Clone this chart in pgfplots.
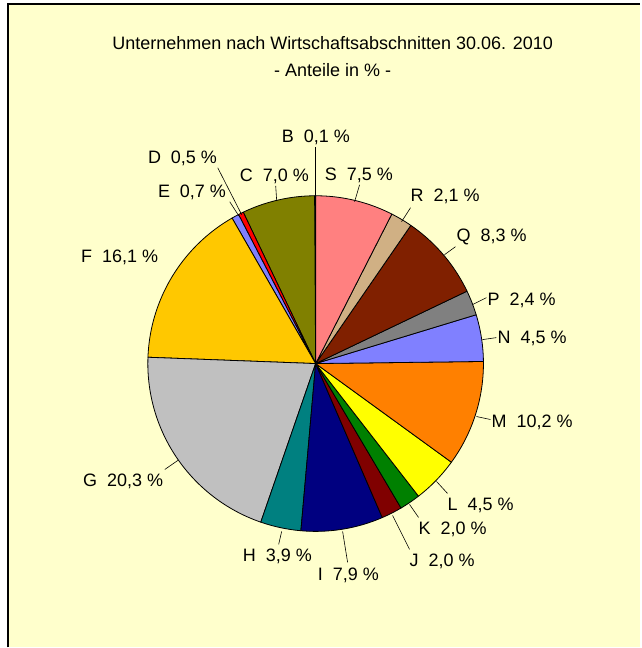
\documentclass[border=0pt]{standalone}
\usepackage{pgfplots}
\pgfplotsset{compat=1.18}
\usepackage{fontspec}
\setmainfont{Liberation Sans}

\definecolor{bg}{HTML}{FFFFCC}
\definecolor{cB}{HTML}{333399}
\definecolor{cC}{HTML}{808000}
\definecolor{cD}{HTML}{FF0000}
\definecolor{cE}{HTML}{8080FF}
\definecolor{cF}{HTML}{FFC800}
\definecolor{cG}{HTML}{C0C0C0}
\definecolor{cH}{HTML}{008080}
\definecolor{cI}{HTML}{000080}
\definecolor{cJ}{HTML}{800000}
\definecolor{cK}{HTML}{008000}
\definecolor{cL}{HTML}{FFFF00}
\definecolor{cM}{HTML}{FF8000}
\definecolor{cN}{HTML}{8080FF}
\definecolor{cP}{HTML}{808080}
\definecolor{cQ}{HTML}{802000}
\definecolor{cR}{HTML}{D0B084}
\definecolor{cS}{HTML}{FF8080}

% centre and radius of the pie, in pixels
\def\cx{316}
\def\cy{-364}
\def\rr{168}
\def\astart{90}

% one slice: share in %, colour
\newcommand\slice[2]{%
  \pgfmathsetmacro\aend{\astart+3.6*#1}%
  \edef\tmp{\noexpand\addplot[draw=black,line width=0.8bp,line join=round,fill=#2,
    domain=\astart:\aend,samples=60]
    ({\cx+\rr*cos(x)},{\cy+\rr*sin(x)}) -- (axis cs:\cx,\cy) -- cycle;}%
  \tmp
  \global\let\astart\aend}

\newcommand\lfont{\fontsize{18bp}{22bp}\selectfont}
\newcommand\lab[3]{% x, y, text
  \node[anchor=west,inner sep=0pt,font=\lfont] at (axis cs:#1,-#2) {#3};}
\newcommand\lead[4]{\draw[black,line width=0.6bp] (axis cs:#1,-#2) -- (axis cs:#3,-#4);}

\begin{document}
\begin{tikzpicture}
\fill[white] (0,0) rectangle (641bp,648bp);
\fill[bg] (8bp,0) rectangle (641bp,644bp);
\draw[black,line width=1.5bp] (8bp,0) -- (8bp,644bp) -- (641bp,644bp);
\begin{axis}[
  width=641bp,height=648bp,scale only axis,
  xmin=0,xmax=641,ymin=-648,ymax=0,
  axis lines=none,clip=false]
\slice{0.1}{cB}
\slice{7.0}{cC}
\slice{0.5}{cD}
\slice{0.7}{cE}
\slice{16.1}{cF}
\slice{20.3}{cG}
\slice{3.9}{cH}
\slice{7.9}{cI}
\slice{2.0}{cJ}
\slice{2.0}{cK}
\slice{4.5}{cL}
\slice{10.2}{cM}
\slice{4.5}{cN}
\slice{2.4}{cP}
\slice{8.3}{cQ}
\slice{2.1}{cR}
\slice{7.5}{cS}

\node[inner sep=0pt,font=\lfont] at (axis cs:333,-43) {Unternehmen nach Wirtschaftsabschnitten 30.06. 2010};
\node[inner sep=0pt,font=\lfont] at (axis cs:333,-70) {- Anteile in \% -};

\lab{282}{138}{B\ \ 0,1 \%}
\lab{240}{177}{C\ \ 7,0 \%}
\lab{148}{159}{D\ \ 0,5 \%}
\lab{158}{193}{E\ \ 0,7 \%}
\lab{81}{258}{F\ \ 16,1 \%}
\lab{83}{482}{G\ \ 20,3 \%}
\lab{243}{557}{H\ \ 3,9 \%}
\lab{318}{576}{I\ \ 7,9 \%}
\lab{410}{562}{J\ \ 2,0 \%}
\lab{419}{530}{K\ \ 2,0 \%}
\lab{448}{506}{L\ \ 4,5 \%}
\lab{492}{423}{M\ \ 10,2 \%}
\lab{498}{339}{N\ \ 4,5 \%}
\lab{488}{301}{P\ \ 2,4 \%}
\lab{457}{237}{Q\ \ 8,3 \%}
\lab{411}{197}{R\ \ 2,1 \%}
\lab{325}{176}{S\ \ 7,5 \%}

\lead{316}{196}{316}{147}
\lead{277}{201}{276}{186}
\lead{242}{215}{218}{168}
\lead{239}{216}{230}{202}
\lead{178}{461}{165}{470}
\lead{282}{532}{279}{545}
\lead{343}{532}{348}{563}
\lead{393}{516}{410}{550}
\lead{410}{505}{419}{518}
\lead{437}{482}{448}{494}
\lead{477}{417}{491}{420}
\lead{483}{340}{497}{338}
\lead{473}{305}{487}{298}
\lead{445}{255}{456}{247}
\lead{402}{222}{411}{208}
\lead{355}{202}{360}{185}
\end{axis}
\end{tikzpicture}
\end{document}
